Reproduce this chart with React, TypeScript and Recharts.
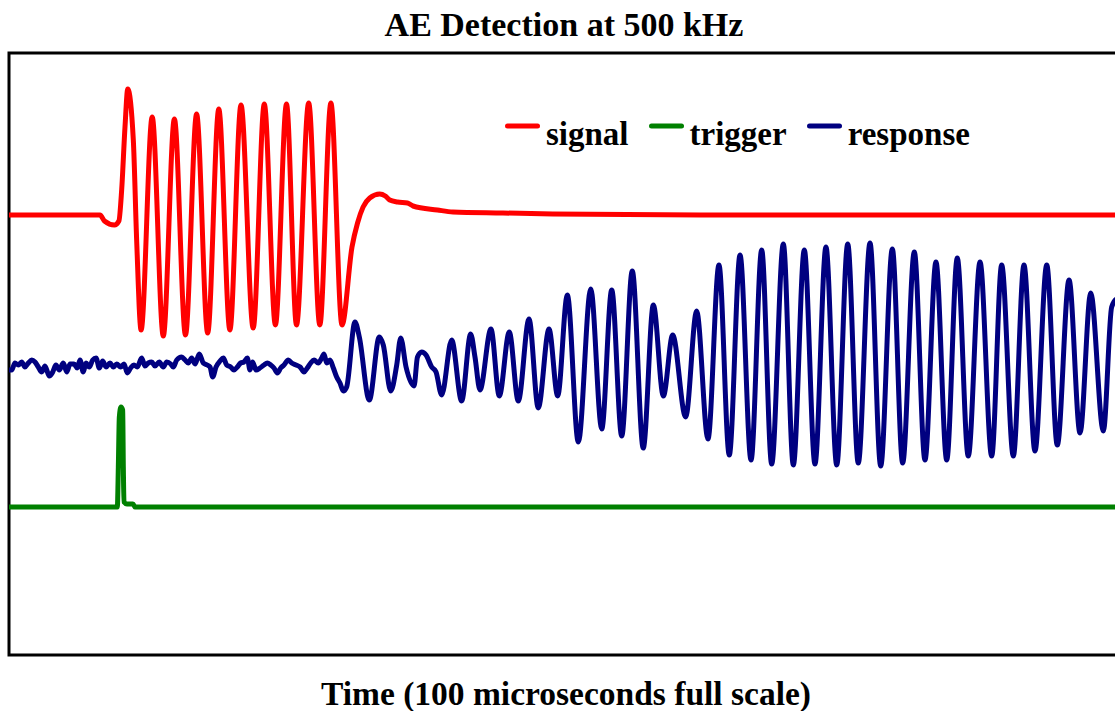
import React from 'react';
import { LineChart, Line, XAxis, YAxis, ReferenceArea, Legend } from 'recharts';

// time in microseconds (100 us full scale), amplitude in volts
const signalTime = [
  0, 8.2, 8.6, 9.5, 9.9, 10.15, 10.45, 10.7, 11.2, 11.5, 11.9, 12.9, 13.9, 14.9, 15.9,
  16.9, 17.9, 18.9, 19.9, 20.9, 22.0, 23.0, 24.0, 25.0, 25.9, 27.0, 28.0, 29.0, 30.0, 30.9,
  31.4, 31.9, 32.5, 33.4, 33.9, 34.3, 35.0, 35.9, 36.4, 38.6, 40.0, 44.5, 49.0, 62.3, 100,
];
const signalVolts = [
  1.39, 1.39, 1.33, 1.29, 1.33, 1.64, 2.27, 2.65, 2.14, 1.14, 0.24, 2.37, 0.18, 2.35, 0.19,
  2.4, 0.21, 2.45, 0.24, 2.49, 0.26, 2.5, 0.29, 2.5, 0.29, 2.51, 0.29, 2.51, 0.29, 1.07,
  1.31, 1.47, 1.56, 1.6, 1.58, 1.54, 1.52, 1.51, 1.48, 1.44, 1.42, 1.41, 1.4, 1.39, 1.39,
];

const triggerTime = [0, 9.76, 9.85, 9.94, 10.09, 10.24, 10.3, 10.36, 10.63, 11.17, 11.35, 100];
const triggerVolts = [-1.53, -1.53, -1.13, -0.63, -0.53, -0.56, -1.13, -1.48, -1.5, -1.5, -1.53, -1.53];

const responseTime = [
  0, 0.24, 0.54, 0.84, 1.14, 1.44, 1.74, 2.05, 2.34, 2.64, 2.95, 3.24, 3.63, 3.94, 4.23,
  4.53, 4.89, 5.2, 5.5, 5.86, 6.15, 6.4, 6.69, 6.94, 7.23, 7.54, 7.84, 8.14, 8.44, 8.74,
  9.1, 9.4, 9.7, 10.06, 10.36, 10.66, 10.96, 11.26, 11.56, 11.95, 12.25, 12.55, 12.86, 13.15, 13.54,
  13.9, 14.21, 14.57, 14.8, 15.11, 15.56, 15.86, 16.15, 16.46, 16.76, 17.14, 17.5, 17.86, 18.11, 18.35,
  18.65, 19.01, 19.31, 19.61, 19.97, 20.27, 20.57, 20.87, 21.17, 21.47, 21.71, 21.95, 22.25, 22.61, 22.97,
  23.27, 23.58, 23.87, 24.17, 24.48, 24.77, 25.16, 25.47, 25.86, 26.22, 26.58, 26.87, 27.18, 27.48, 27.86,
  28.17, 28.38, 28.62, 28.92, 29.22, 29.52, 29.82, 30.12, 30.42,
  31.17, 31.56, 32.46, 33.36, 33.72, 34.39, 34.93, 35.29, 35.77, 36.49, 36.8, 37.18, 37.57, 38.08, 38.47,
  38.98, 39.88, 40.78, 41.59, 41.98, 42.43, 43.42, 44.17, 45.07, 45.88, 46.85, 47.68, 48.65, 49.43, 50.3,
  51.29, 52.41, 53.4, 54.3, 55.2, 56.15, 57.14, 58.05, 58.95, 59.79, 60.96, 61.95, 62.97, 63.96, 64.89,
  65.86, 66.85, 67.81, 68.71, 69.76, 70.66, 71.65, 72.61, 73.6, 74.57, 75.56, 76.51, 77.57, 78.53, 79.58,
  80.51, 81.56, 82.52, 83.51, 84.48, 85.43, 86.42, 87.48, 88.53, 89.43, 90.48, 91.44, 92.43, 93.49, 94.44,
  95.5, 96.49, 97.45, 98.59, 99.34, 99.82, 100,
];
const responseVolts = [
  -0.16, -0.16, -0.09, -0.11, -0.08, -0.13, -0.09, -0.06, -0.08, -0.13, -0.18, -0.12, -0.22, -0.18, -0.11,
  -0.16, -0.09, -0.18, -0.1, -0.1, -0.14, -0.06, -0.18, -0.09, -0.13, -0.06, -0.04, -0.14, -0.07, -0.13,
  -0.09, -0.13, -0.1, -0.13, -0.1, -0.19, -0.14, -0.11, -0.13, -0.04, -0.12, -0.09, -0.08, -0.12, -0.08,
  -0.13, -0.08, -0.1, -0.13, -0.06, -0.03, -0.06, -0.09, -0.04, -0.1, 0.0, -0.09, -0.11, -0.13, -0.23,
  -0.13, -0.07, -0.04, -0.11, -0.13, -0.16, -0.13, -0.09, -0.08, -0.04, -0.16, -0.08, -0.16, -0.14, -0.11,
  -0.09, -0.11, -0.14, -0.19, -0.14, -0.11, -0.06, -0.09, -0.11, -0.13, -0.18, -0.14, -0.09, -0.06, -0.09,
  -0.04, 0.0, -0.09, -0.06, -0.14, -0.23, -0.29, -0.37, -0.33,
  0.32, 0.17, -0.46, 0.17, 0.09, -0.37, -0.11, 0.16, -0.13, -0.32, -0.03, 0.02, -0.01, -0.13, -0.18,
  -0.41, 0.14, -0.47, 0.2, -0.03, -0.36, 0.25, -0.42, 0.22, -0.47, 0.35, -0.54, 0.25, -0.42, 0.59,
  -0.88, 0.65, -0.75, 0.64, -0.82, 0.83, -0.94, 0.49, -0.42, 0.19, -0.63, 0.43, -0.85, 0.89, -1.01,
  0.99, -1.06, 1.04, -1.1, 1.1, -1.11, 1.04, -1.1, 1.07, -1.11, 1.1, -1.09, 1.11, -1.12, 1.05,
  -1.09, 1.02, -1.06, 0.92, -1.06, 0.96, -1.02, 0.92, -1.02, 0.89, -1.02, 0.89, -0.97, 0.89, -0.91,
  0.74, -0.79, 0.61, -0.77, 0.47, 0.55, 0.52,
];

const seriesNames = ['signal', 'trigger', 'response'];
const seriesColors = ['#ff0000', '#008000', '#000080'];

const toPoints = (t: number[], v: number[]) => t.map((x, i) => ({ t: x, v: v[i] }));
const seriesData = [
  toPoints(signalTime, signalVolts),
  toPoints(triggerTime, triggerVolts),
  toPoints(responseTime, responseVolts),
];

const FONT = '"Liberation Serif", "Times New Roman", serif';

const renderLegend = () => (
  <div style={{ display: 'flex', fontFamily: FONT, fontWeight: 'bold', fontSize: 33, lineHeight: '40px', color: '#000' }}>
    {seriesNames.map((name, i) => (
      <div key={name} style={{ display: 'flex', alignItems: 'flex-start', marginRight: 20 }}>
        <svg width={35} height={40} style={{ display: 'block' }}>
          <line x1={2.5} x2={32.5} y1={12} y2={12} stroke={seriesColors[i]} strokeWidth={5} strokeLinecap="round" />
        </svg>
        <span style={{ marginLeft: 6, whiteSpace: 'nowrap' }}>{name}</span>
      </div>
    ))}
  </div>
);

export default function App() {
  return (
    <div style={{ position: 'absolute', left: 0, top: 0, width: 1115, height: 711, overflow: 'hidden', background: '#fff' }}>
      <LineChart width={1130} height={711} margin={{ top: 53, right: 11, bottom: 56, left: 9 }}>
        <XAxis dataKey="t" type="number" domain={[0, 100]} hide allowDataOverflow />
        <YAxis type="number" domain={[-3.01, 3.01]} hide allowDataOverflow />
        <ReferenceArea x1={0} x2={100} y1={-3.01} y2={3.01} fill="none" stroke="#000" strokeWidth={3} />
        {seriesNames.map((name, i) => (
          <Line
            key={name}
            data={seriesData[i]}
            dataKey="v"
            name={name}
            type="monotone"
            stroke={seriesColors[i]}
            strokeWidth={5}
            strokeLinejoin="round"
            dot={false}
            activeDot={false}
            isAnimationActive={false}
          />
        ))}
        <Legend
          layout="horizontal"
          verticalAlign="middle"
          align="center"
          content={renderLegend}
          wrapperStyle={{ left: 505, top: 114, width: 600, height: 40 }}
        />
      </LineChart>
      <svg width={1115} height={711} style={{ position: 'absolute', left: 0, top: 0, pointerEvents: 'none' }}>
        <text x={564} y={36} textAnchor="middle" fontFamily={FONT} fontWeight="bold" fontSize={34} fill="#000">
          AE Detection at 500 kHz
        </text>
        <text x={566} y={705} textAnchor="middle" fontFamily={FONT} fontWeight="bold" fontSize={33.5} fill="#000">
          Time (100 microseconds full scale)
        </text>
      </svg>
    </div>
  );
}
